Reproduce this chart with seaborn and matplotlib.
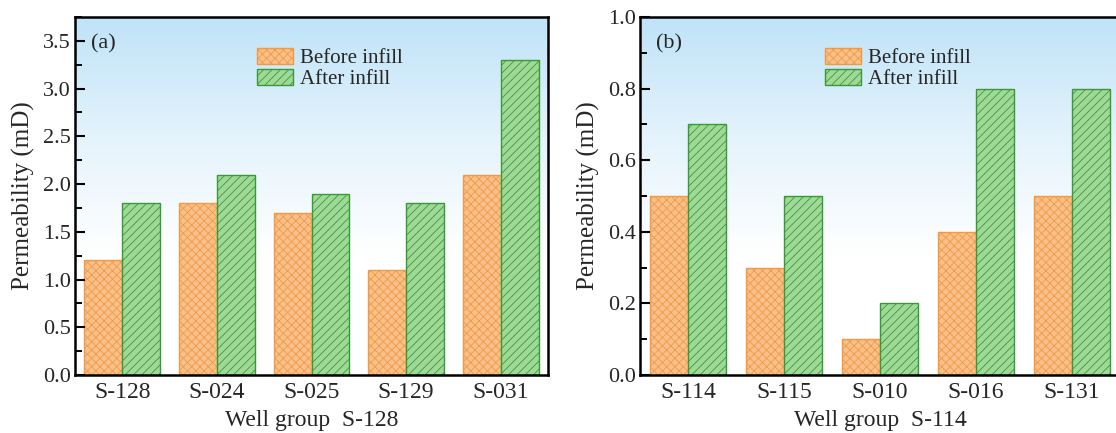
import numpy as np
import pandas as pd
import matplotlib
matplotlib.use("Agg")
import matplotlib.pyplot as plt
import seaborn as sns
from matplotlib.patches import Patch
from matplotlib.colors import LinearSegmentedColormap
from matplotlib.ticker import MultipleLocator, FormatStrFormatter

# ---- data ----
wells_a = ["S-128", "S-024", "S-025", "S-129", "S-031"]
before_a = [1.2, 1.8, 1.7, 1.1, 2.1]
after_a = [1.8, 2.1, 1.9, 1.8, 3.3]

wells_b = ["S-114", "S-115", "S-010", "S-016", "S-131"]
before_b = [0.5, 0.3, 0.1, 0.4, 0.5]
after_b = [0.7, 0.5, 0.2, 0.8, 0.8]

series_names = ["Before infill", "After infill"]
xlabel_a = "Well group  S-128"
xlabel_b = "Well group  S-114"
ylabel = "Permeability (mD)"

# ---- style ----
sns.set_style("ticks")
plt.rcParams["font.family"] = ["Liberation Serif", "DejaVu Serif"]
plt.rcParams["hatch.linewidth"] = 0.6

ORANGE_FILL = "#F9C08A"
ORANGE_EDGE = "#F09A45"
GREEN_FILL = "#A0D898"
GREEN_EDGE = "#379A37"
fills = [ORANGE_FILL, GREEN_FILL]
edges = [ORANGE_EDGE, GREEN_EDGE]
hatches = ["xxxx", "////"]

fig = plt.figure(figsize=(11.16, 4.33), dpi=100)
W, H = 1116, 433
ax_a = fig.add_axes([75 / W, (H - 375) / H, (548 - 75) / W, (375 - 17) / H])
ax_b = fig.add_axes([640 / W, (H - 375) / H, 480 / W, (375 - 17) / H])

cmap = LinearSegmentedColormap.from_list("bg", ["#BFE3F8", "#E4F3FC", "#FFFFFF", "#FFFFFF"])
grad = np.linspace(0, 1, 256).reshape(-1, 1)


def panel(ax, wells, before, after, ylim, major, minor, tag, xlabel, legend_x):
    df = pd.DataFrame({
        "well": wells * 2,
        "value": list(before) + list(after),
        "series": [series_names[0]] * len(wells) + [series_names[1]] * len(wells),
    })
    ax.imshow(grad, extent=[0, 1, 0, 1], transform=ax.transAxes, cmap=cmap,
              aspect="auto", zorder=0, origin="upper")
    sns.barplot(data=df, x="well", y="value", hue="series", order=wells,
                hue_order=series_names, width=0.8, ax=ax, legend=False,
                palette=fills, saturation=1, zorder=2)
    for cont, fc, ec, h in zip(ax.containers, fills, edges, hatches):
        for p in cont:
            p.set_facecolor(fc)
            p.set_edgecolor(ec)
            p.set_hatch(h)
            p.set_linewidth(1.0)
    ax.set_xlim(-0.5, 4.5)
    ax.set_ylim(*ylim)
    ax.yaxis.set_major_locator(MultipleLocator(major))
    ax.yaxis.set_minor_locator(MultipleLocator(minor))
    ax.yaxis.set_major_formatter(FormatStrFormatter("%.1f"))
    ax.tick_params(axis="y", which="major", direction="in", length=7, width=1.5,
                   labelsize=16, color="black", pad=3)
    ax.tick_params(axis="y", which="minor", direction="in", length=5, width=1.4, color="black")
    ax.tick_params(axis="x", length=0, labelsize=17, pad=5)
    for s in ax.spines.values():
        s.set_visible(True)
        s.set_linewidth(1.8)
        s.set_color("black")
    ax.set_xlabel(xlabel, fontsize=17, labelpad=5)
    ax.set_ylabel(ylabel, fontsize=18, labelpad=6)
    ax.text(0.033, 0.925, tag, transform=ax.transAxes, fontsize=16, va="center", ha="left")
    handles = [Patch(facecolor=fc, edgecolor=ec, hatch=h, linewidth=1.0)
               for fc, ec, h in zip(fills, edges, hatches)]
    ax.legend(handles, series_names, loc="upper left", bbox_to_anchor=(legend_x, 0.913),
              frameon=False, fontsize=15, handlelength=1.73, handleheight=0.77,
              handletextpad=0.35, labelspacing=0.05, borderaxespad=0, borderpad=0)
    ax.set_axisbelow(False)


panel(ax_a, wells_a, before_a, after_a, (0, 3.75), 0.5, 0.25, "(a)", xlabel_a, 0.385)
panel(ax_b, wells_b, before_b, after_b, (0, 1.0), 0.2, 0.1, "(b)", xlabel_b, 0.385)

fig.savefig("out.png", dpi=100)
